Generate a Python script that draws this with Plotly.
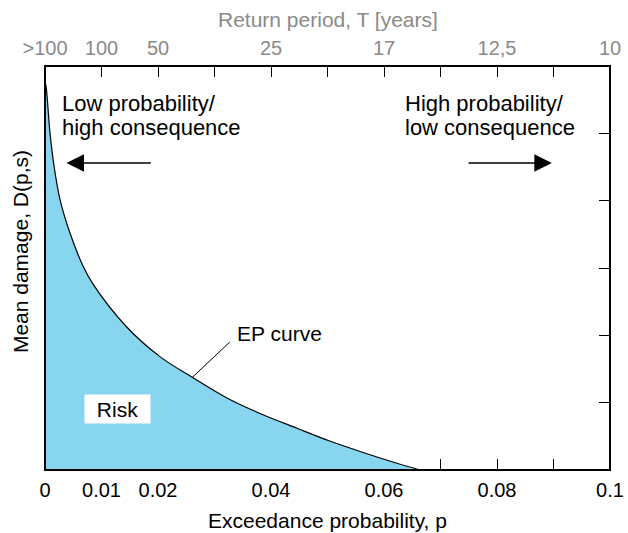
import plotly.graph_objects as go

# EP curve: exceedance probability p vs mean damage D (axis 0..6)
p_vals = [0.0, 0.00018, 0.00088, 0.00159, 0.00265, 0.00442, 0.00673, 0.0085, 0.0145,
          0.0204, 0.0262, 0.0322, 0.0386, 0.0446, 0.0504, 0.0563, 0.0623, 0.0664]
d_vals = [5.76, 5.70, 5.01, 4.52, 4.02, 3.52, 3.03, 2.76, 2.12,
          1.68, 1.37, 1.07, 0.82, 0.62, 0.43, 0.26, 0.10, 0.0]

bottom_tickvals = [0, 0.01, 0.02, 0.03, 0.04, 0.05, 0.06, 0.07, 0.08, 0.09, 0.1]
bottom_ticktext = ["0", "0.01", "0.02", "", "0.04", "", "0.06", "", "0.08", "", "0.1"]
top_ticktext = [">100", "100", "50", "", "25", "", "17", "", "12,5", "", "10"]
y_tickvals = [1, 2, 3, 4, 5]

FONT = "Liberation Sans, Arial, Helvetica, sans-serif"
GRAY = "#8a8a8a"
FILL = "#87D5EE"
TXT = 21

fig = go.Figure()
fig.add_trace(go.Scatter(
    x=p_vals, y=d_vals, mode="lines", fill="tozeroy", fillcolor=FILL,
    line=dict(color="black", width=1.2, shape="spline", smoothing=1.0),
    showlegend=False, hoverinfo="skip"))
fig.add_trace(go.Scatter(x=[0, 0.1], y=[0, 0], xaxis="x2", mode="markers",
                         marker=dict(opacity=0), showlegend=False, hoverinfo="skip"))

fig.update_layout(
    width=628, height=533,
    margin=dict(l=45, r=18, t=66, b=63, autoexpand=False),
    paper_bgcolor="white", plot_bgcolor="white",
    font=dict(family=FONT, size=20, color="black"),
    xaxis=dict(range=[0, 0.1], tickvals=bottom_tickvals, ticktext=bottom_ticktext,
               ticks="inside", ticklen=11, tickwidth=1.2, tickcolor="black",
               showline=False, showgrid=False, zeroline=False, layer="below traces",
               automargin=False, ticklabelstandoff=6,
               tickfont=dict(size=20, color="black", family=FONT)),
    xaxis2=dict(range=[0, 0.1], overlaying="x", side="top", anchor="y",
                tickvals=bottom_tickvals, ticktext=top_ticktext,
                ticks="inside", ticklen=11, tickwidth=1.2, tickcolor="black",
                showline=False, showgrid=False, zeroline=False, automargin=False,
                ticklabelstandoff=6,
                tickfont=dict(size=20, color=GRAY, family=FONT)),
    yaxis=dict(range=[0, 6], side="right", tickvals=y_tickvals, showticklabels=False,
               ticks="inside", ticklen=11, tickwidth=1.2, tickcolor="black",
               showline=False, showgrid=False, zeroline=False, automargin=False),
)

# frame
fig.add_shape(type="rect", xref="paper", yref="paper", x0=0, x1=1, y0=0, y1=1,
              line=dict(color="black", width=2), layer="above")
# leader line for the EP curve label
fig.add_shape(type="line", xref="x", yref="y", x0=0.0260, y0=1.37, x1=0.0327, y1=1.90,
              line=dict(color="black", width=1), layer="above")

ann = []
ann.append(dict(text="Exceedance probability, p", xref="paper", yref="paper",
                x=0.5, y=-0.124, xanchor="center", yanchor="middle",
                showarrow=False, font=dict(size=TXT)))
ann.append(dict(text="Return period, T [years]", xref="paper", yref="paper",
                x=0.5, y=1.116, xanchor="center", yanchor="middle",
                showarrow=False, font=dict(size=TXT, color=GRAY)))
ann.append(dict(text="Mean damage, D(p,s)", xref="paper", yref="paper",
                x=-0.042, y=0.54, xanchor="center", yanchor="middle",
                textangle=-90, showarrow=False, font=dict(size=TXT)))
# corner texts (one annotation per line)
for txt, yy in [("Low probability/", 5.45), ("high consequence", 5.08)]:
    ann.append(dict(text=txt, xref="x", yref="y", x=0.0026, y=yy, xanchor="left",
                    yanchor="middle", showarrow=False, font=dict(size=22)))
for txt, yy in [("High probability/", 5.45), ("low consequence", 5.08)]:
    ann.append(dict(text=txt, xref="x", yref="y", x=0.0633, y=yy, xanchor="left",
                    yanchor="middle", showarrow=False, font=dict(size=22)))
# arrows
ann.append(dict(text="", x=0.0038, y=4.56, ax=0.0190, ay=4.56, xref="x", yref="y",
                axref="x", ayref="y", showarrow=True, arrowhead=2, arrowsize=2.5,
                arrowwidth=1.4, arrowcolor="black"))
ann.append(dict(text="", x=0.0897, y=4.56, ax=0.0747, ay=4.56, xref="x", yref="y",
                axref="x", ayref="y", showarrow=True, arrowhead=2, arrowsize=2.5,
                arrowwidth=1.4, arrowcolor="black"))
ann.append(dict(text="EP curve", xref="x", yref="y", x=0.0336, y=2.03,
                xanchor="left", yanchor="middle", showarrow=False, font=dict(size=TXT)))
ann.append(dict(text="Risk", xref="x", yref="y", x=0.0128, y=0.91,
                xanchor="center", yanchor="middle", showarrow=False,
                width=65, height=28, bgcolor="white", borderpad=0, font=dict(size=TXT)))
fig.update_layout(annotations=ann)

fig.write_html("out.html")
